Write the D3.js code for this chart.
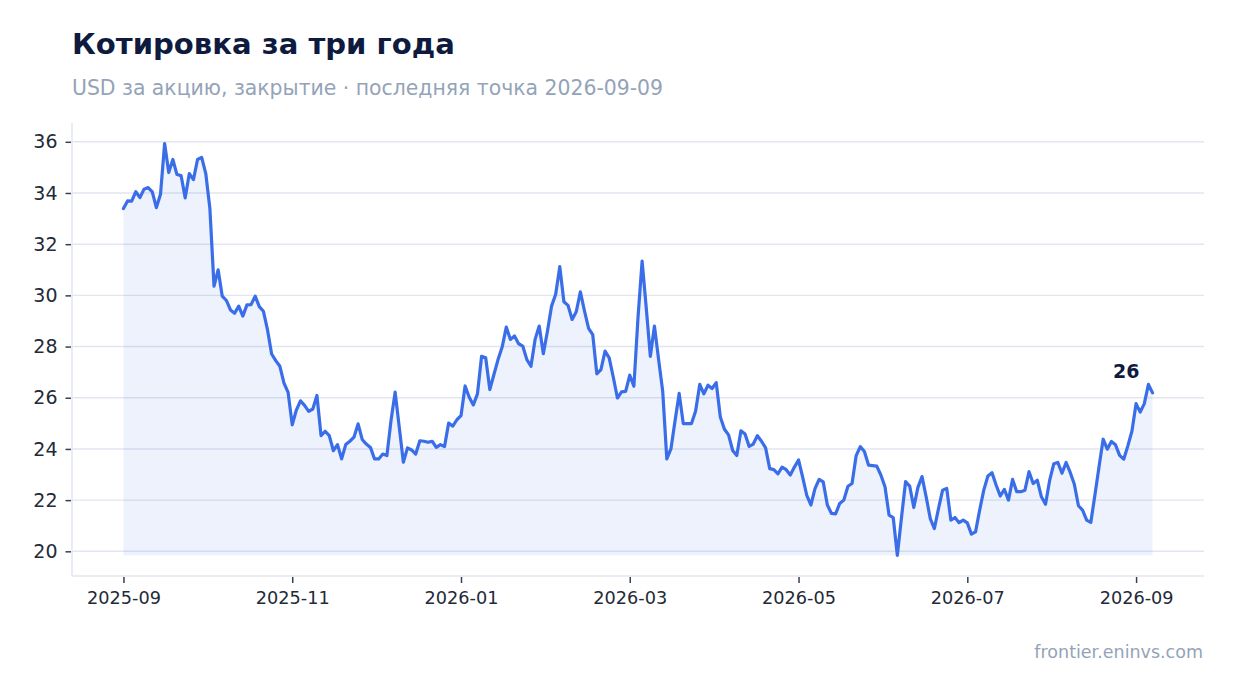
<!DOCTYPE html>
<html>
<head>
<meta charset="utf-8">
<script src="https://cdn.jsdelivr.net/npm/d3@7"></script>
<style>
  html, body { margin: 0; padding: 0; background: #ffffff; }
  svg { display: block; font-family: "DejaVu Sans", sans-serif; }
</style>
</head>
<body>
<svg id="chart" width="1234" height="693"></svg>
<script>
const titleText = "Котировка за три года";
const subtitleText = "USD за акцию, закрытие · последняя точка 2026-09-09";
const sourceText = "frontier.eninvs.com";

const prices = [
  33.39, 33.69, 33.68, 34.05, 33.82, 34.15, 34.21, 34.04, 33.43, 33.95,
  35.93, 34.80, 35.31, 34.72, 34.68, 33.81, 34.76, 34.52, 35.31, 35.39,
  34.76, 33.39, 30.36, 31.00, 29.97, 29.80, 29.43, 29.30, 29.58, 29.19,
  29.63, 29.64, 29.97, 29.56, 29.38, 28.65, 27.71, 27.45, 27.23, 26.57,
  26.21, 24.94, 25.52, 25.88, 25.70, 25.47, 25.56, 26.09, 24.52, 24.69,
  24.52, 23.93, 24.17, 23.61, 24.17, 24.30, 24.46, 24.98, 24.37, 24.19,
  24.06, 23.61, 23.61, 23.80, 23.74, 25.11, 26.22, 24.85, 23.48, 24.04,
  23.96, 23.80, 24.32, 24.30, 24.26, 24.30, 24.06, 24.17, 24.09, 25.01,
  24.89, 25.14, 25.30, 26.46, 26.02, 25.72, 26.15, 27.62, 27.56, 26.32,
  26.91, 27.49, 27.98, 28.76, 28.28, 28.41, 28.11, 28.02, 27.49, 27.23,
  28.28, 28.80, 27.72, 28.60, 29.58, 30.04, 31.12, 29.75, 29.61, 29.06,
  29.36, 30.14, 29.39, 28.71, 28.47, 26.93, 27.10, 27.82, 27.56, 26.80,
  25.99, 26.23, 26.25, 26.88, 26.45, 29.13, 31.34, 29.52, 27.62, 28.80,
  27.50, 26.26, 23.61, 24.00, 25.10, 26.17, 24.99, 24.99, 24.99, 25.48,
  26.52, 26.15, 26.49, 26.36, 26.59, 25.25, 24.77, 24.55, 23.94, 23.74,
  24.71, 24.58, 24.10, 24.19, 24.52, 24.30, 24.04, 23.23, 23.19, 23.03,
  23.29, 23.19, 22.98, 23.29, 23.57, 22.90, 22.19, 21.81, 22.45, 22.81,
  22.71, 21.81, 21.48, 21.46, 21.87, 22.00, 22.54, 22.65, 23.74, 24.09,
  23.90, 23.37, 23.35, 23.33, 22.98, 22.52, 21.41, 21.32, 19.84, 21.30,
  22.72, 22.55, 21.71, 22.50, 22.92, 22.13, 21.28, 20.89, 21.67, 22.39,
  22.46, 21.22, 21.32, 21.12, 21.22, 21.11, 20.67, 20.76, 21.61, 22.39,
  22.94, 23.07, 22.59, 22.16, 22.42, 22.00, 22.81, 22.33, 22.33, 22.39,
  23.11, 22.65, 22.78, 22.13, 21.84, 22.77, 23.42, 23.47, 23.05, 23.47,
  23.08, 22.62, 21.78, 21.61, 21.22, 21.13, 22.20, 23.30, 24.38, 23.99,
  24.29, 24.16, 23.75, 23.60, 24.12, 24.70, 25.77, 25.44, 25.77, 26.52,
  26.19
];

const xTickIndex = [0, 41, 82, 123, 164, 205, 246];
const xTickLabels = ["2025-09", "2025-11", "2026-01", "2026-03", "2026-05", "2026-07", "2026-09"];
const yTicks = [20, 22, 24, 26, 28, 30, 32, 34, 36];

const W = 1234, H = 693;
const plot = { left: 72, right: 1204, top: 123, bottom: 576 };

const svg = d3.select("#chart");

const n = prices.length;
const xPad = 0.05 * (n - 1);
const x = d3.scaleLinear()
  .domain([-xPad, (n - 1) + xPad])
  .range([plot.left, plot.right]);

const [yMin, yMax] = d3.extent(prices);
const yPad = 0.05 * (yMax - yMin);
const y = d3.scaleLinear()
  .domain([yMin - yPad, yMax + yPad])
  .range([plot.bottom, plot.top]);

// Title / subtitle
svg.append("text")
  .attr("x", 72).attr("y", 54)
  .attr("font-size", 29.1).attr("font-weight", "bold")
  .attr("fill", "#0e1b3f")
  .text(titleText);

svg.append("text")
  .attr("x", 72).attr("y", 95)
  .attr("font-size", 20.4).attr("fill", "#94a3b8")
  .text(subtitleText);

// Gridlines
svg.append("g")
  .selectAll("line")
  .data(yTicks)
  .join("line")
  .attr("x1", plot.left).attr("x2", plot.right)
  .attr("y1", d => y(d)).attr("y2", d => y(d))
  .attr("stroke", "#e2e6ef").attr("stroke-width", 1.4);

// Area fill down to the minimum
const area = d3.area()
  .x((d, i) => x(i))
  .y0(y(yMin))
  .y1(d => y(d));

svg.append("path")
  .datum(prices)
  .attr("d", area)
  .attr("fill", "#3b6ee8")
  .attr("fill-opacity", 0.09);

// Line
const line = d3.line()
  .x((d, i) => x(i))
  .y(d => y(d));

svg.append("path")
  .datum(prices)
  .attr("d", line)
  .attr("fill", "none")
  .attr("stroke", "#3a6de8")
  .attr("stroke-width", 3.2)
  .attr("stroke-linejoin", "round")
  .attr("stroke-linecap", "round");

// Spines
svg.append("line")
  .attr("x1", plot.left).attr("x2", plot.left)
  .attr("y1", plot.top).attr("y2", plot.bottom)
  .attr("stroke", "#e2e6ef").attr("stroke-width", 1.5);
svg.append("line")
  .attr("x1", plot.left).attr("x2", plot.right)
  .attr("y1", plot.bottom).attr("y2", plot.bottom)
  .attr("stroke", "#e2e6ef").attr("stroke-width", 1.5);

// Y axis
const yAxis = d3.axisLeft(y)
  .tickValues(yTicks)
  .tickSize(5.5)
  .tickPadding(8)
  .tickFormat(d3.format("d"));

const gy = svg.append("g")
  .attr("transform", `translate(${plot.left - 1},0)`)
  .call(yAxis);
gy.select(".domain").remove();
gy.selectAll(".tick line").attr("stroke", "#374151").attr("stroke-width", 1.5);
gy.selectAll(".tick text")
  .attr("font-family", "DejaVu Sans")
  .attr("font-size", 19)
  .attr("fill", "#232a38");

// X axis
const xAxis = d3.axisBottom(x)
  .tickValues(xTickIndex)
  .tickSize(6)
  .tickPadding(8)
  .tickFormat((d, i) => xTickLabels[i]);

const gx = svg.append("g")
  .attr("transform", `translate(0,${plot.bottom + 1})`)
  .call(xAxis);
gx.select(".domain").remove();
gx.selectAll(".tick line").attr("stroke", "#374151").attr("stroke-width", 1.5);
gx.selectAll(".tick text")
  .attr("font-family", "DejaVu Sans")
  .attr("font-size", 17.7)
  .attr("fill", "#232a38");

// Last value annotation
const last = prices[n - 1];
svg.append("text")
  .attr("x", x(n - 1) - 13)
  .attr("y", y(last) - 15)
  .attr("text-anchor", "end")
  .attr("font-size", 19).attr("font-weight", "bold")
  .attr("fill", "#0e1b3f")
  .text(d3.format("d")(Math.round(last)));

// Source
svg.append("text")
  .attr("x", 1203).attr("y", 658)
  .attr("text-anchor", "end")
  .attr("font-size", 17.5).attr("fill", "#94a3b8")
  .text(sourceText);
</script>
</body>
</html>
